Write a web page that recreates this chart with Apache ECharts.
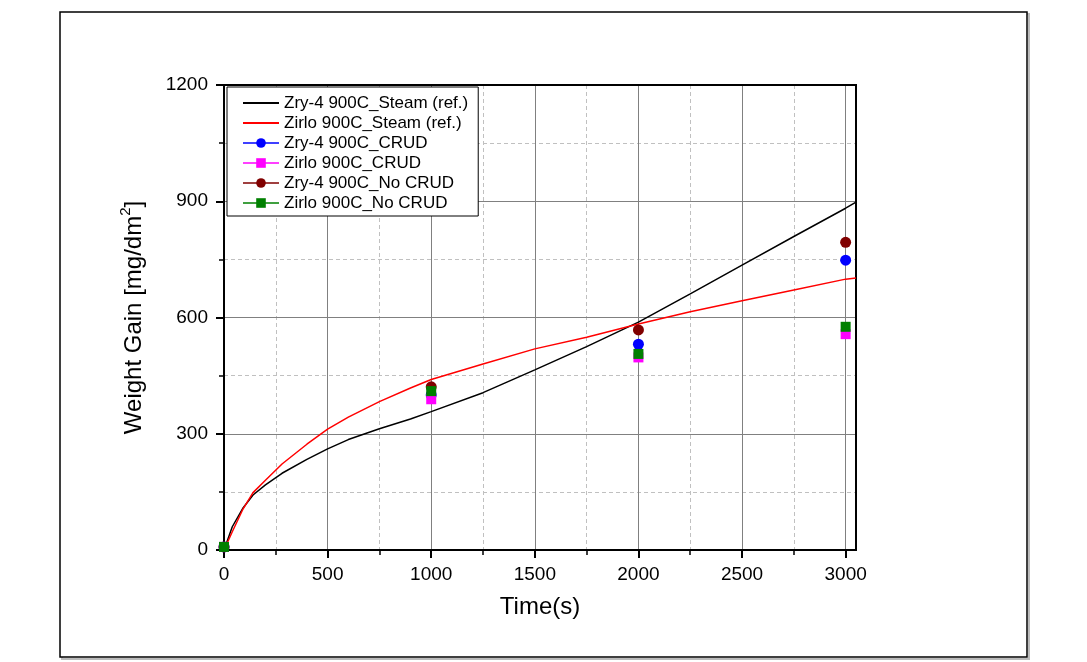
<!DOCTYPE html>
<html>
<head>
<meta charset="utf-8">
<script src="https://cdn.jsdelivr.net/npm/echarts@6/dist/echarts.min.js"></script>
<style>
  html, body { margin: 0; padding: 0; background: #fff; }
  #chart { width: 1087px; height: 662px; }
</style>
</head>
<body>
<div id="chart"></div>
<script>
// reference curves (steam)
const refTime = [0, 10, 40, 90, 140, 200, 280, 400, 500, 600, 750, 900, 1000, 1250, 1500, 1750, 2000, 2250, 2500, 2750, 3000, 3050]
const zry4Steam = [0, 15, 60, 107, 142, 168, 198, 234, 261, 285, 313, 338, 357, 406, 465, 525, 588, 661, 735, 809, 882, 898]
const zirloSteam = [0, 12, 47, 104, 148, 180, 222, 273, 312, 343, 383, 418, 440, 480, 519, 549, 583, 615, 643, 671, 699, 702]

// test points
const testTime = [0, 1000, 2000, 3000]
const zry4Crud = [8, 400, 531, 748]
const zirloCrud = [8, 389, 497, 557]
const zry4NoCrud = [8, 421, 568, 794]
const zirloNoCrud = [8, 410, 506, 576]

// ticks
const xMajor = [0, 500, 1000, 1500, 2000, 2500, 3000]
const xMinor = [250, 750, 1250, 1750, 2250, 2750]
const yMajor = [0, 300, 600, 900, 1200]
const yMinor = [150, 450, 750, 1050]

const FONT = '"Liberation Sans", Arial, sans-serif'

function pairs(xs, ys) {
  return xs.map((x, i) => [x, ys[i]])
}

const chart = echarts.init(document.getElementById('chart'))

const majorAxis = (vals) => ({
  type: 'value',
  z: 1,
  axisLine: { show: true, onZero: false, lineStyle: { color: '#000', width: 2 } },
  axisTick: { show: true, inside: false, length: 8, customValues: vals, lineStyle: { color: '#000', width: 2 } },
  axisLabel: { customValues: vals, color: '#000', fontSize: 19, fontFamily: FONT, formatter: v => String(v) },
  splitLine: { show: true, lineStyle: { color: '#808080', width: 1 } }
})

const minorAxis = (vals) => ({
  type: 'value',
  z: 0,
  axisLine: { show: false },
  axisTick: { show: true, inside: false, length: 5, customValues: vals, lineStyle: { color: '#000', width: 1.5 } },
  axisLabel: { show: false },
  splitLine: { show: true, lineStyle: { color: '#c0c0c0', width: 1, type: [4, 3] } }
})

const legendPoint = (name, color) => ({
  name,
  lineStyle: { opacity: 1, width: 1.5, color }
})

const option = {
  backgroundColor: '#fff',
  animation: false,
  textStyle: { fontFamily: FONT },
  graphic: [
    { type: 'rect', shape: { x: 62, y: 14, width: 967, height: 645 }, style: { fill: 'none', stroke: '#bbb', lineWidth: 2 }, z: -1 },
    { type: 'rect', shape: { x: 60, y: 12, width: 967, height: 645 }, style: { fill: '#fff', stroke: '#000', lineWidth: 1.5 }, z: -1 }
  ],
  grid: {
    left: 224, top: 85, right: 231, bottom: 112,
    show: true, borderColor: '#000', borderWidth: 2, backgroundColor: 'transparent', z: 3
  },
  legend: {
    orient: 'vertical',
    left: 227, top: 87,
    padding: [6, 10, 3, 15],
    itemWidth: 36, itemHeight: 12, itemGap: 0,
    backgroundColor: '#fff',
    borderColor: '#000', borderWidth: 1,
    textStyle: { color: '#000', fontSize: 17, fontFamily: FONT, lineHeight: 20 },
    data: [
      { name: 'Zry-4 900C_Steam (ref.)', itemStyle: { opacity: 0 } },
      { name: 'Zirlo 900C_Steam (ref.)', itemStyle: { opacity: 0 } },
      legendPoint('Zry-4 900C_CRUD', '#0000ff'),
      legendPoint('Zirlo 900C_CRUD', '#ff00ff'),
      legendPoint('Zry-4 900C_No CRUD', '#800000'),
      legendPoint('Zirlo 900C_No CRUD', '#008000')
    ]
  },
  xAxis: [
    Object.assign(majorAxis(xMajor), {
      min: 0, max: 3050, interval: 500,
      name: 'Time(s)', nameLocation: 'middle', nameGap: 45,
      nameTextStyle: { color: '#000', fontSize: 24, fontFamily: FONT },
      axisLabel: { customValues: xMajor, color: '#000', fontSize: 19, fontFamily: FONT, margin: 15, formatter: v => String(v) }
    }),
    Object.assign(minorAxis(xMinor), { min: 0, max: 3050, interval: 250, position: 'bottom' })
  ],
  yAxis: [
    Object.assign(majorAxis(yMajor), {
      min: 0, max: 1200, interval: 300,
      name: '{a|Weight Gain [mg/dm}{s|2}{a|]}', nameLocation: 'middle', nameGap: 78, nameRotate: 90,
      nameTextStyle: {
        rich: {
          a: { fontSize: 24, fontFamily: FONT, color: '#000', lineHeight: 28, verticalAlign: 'bottom' },
          s: { fontSize: 15, fontFamily: FONT, color: '#000', lineHeight: 28, verticalAlign: 'top' }
        }
      },
      axisLabel: { customValues: yMajor, color: '#000', fontSize: 19, fontFamily: FONT, margin: 16, formatter: v => String(v) }
    }),
    Object.assign(minorAxis(yMinor), { min: 0, max: 1200, interval: 150, position: 'left' })
  ],
  series: [
    {
      name: 'Zry-4 900C_Steam (ref.)', type: 'line', symbol: 'none', color: '#000',
      lineStyle: { width: 1.5, color: '#000' }, data: pairs(refTime, zry4Steam), z: 4
    },
    {
      name: 'Zirlo 900C_Steam (ref.)', type: 'line', symbol: 'none', color: '#ff0000',
      lineStyle: { width: 1.5, color: '#ff0000' }, data: pairs(refTime, zirloSteam), z: 4
    },
    {
      name: 'Zry-4 900C_CRUD', type: 'line', symbol: 'circle', symbolSize: 11, color: '#0000ff',
      lineStyle: { opacity: 0 }, data: pairs(testTime, zry4Crud), z: 5
    },
    {
      name: 'Zirlo 900C_CRUD', type: 'line', symbol: 'rect', symbolSize: 10, color: '#ff00ff',
      lineStyle: { opacity: 0 }, data: pairs(testTime, zirloCrud), z: 5
    },
    {
      name: 'Zry-4 900C_No CRUD', type: 'line', symbol: 'circle', symbolSize: 11, color: '#800000',
      lineStyle: { opacity: 0 }, data: pairs(testTime, zry4NoCrud), z: 5
    },
    {
      name: 'Zirlo 900C_No CRUD', type: 'line', symbol: 'rect', symbolSize: 10, color: '#008000',
      lineStyle: { opacity: 0 }, data: pairs(testTime, zirloNoCrud), z: 5
    }
  ]
}

chart.setOption(option)
</script>
</body>
</html>
